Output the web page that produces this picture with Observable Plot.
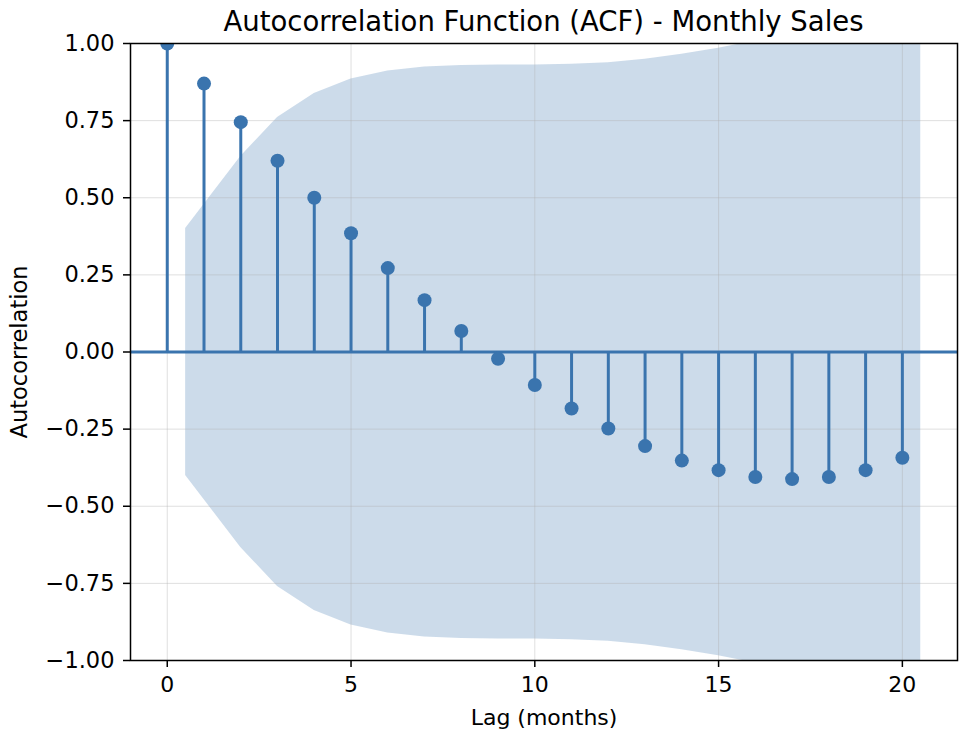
<!DOCTYPE html>
<html>
<head>
<meta charset="utf-8">
<script src="https://cdn.jsdelivr.net/npm/d3@7"></script>
<script src="https://cdn.jsdelivr.net/npm/@observablehq/plot@0.6"></script>
<style>
  body { margin: 0; background: #fff; font-family: "DejaVu Sans", sans-serif; }
  #title { height: 36px; line-height: 42px; font-size: 27.5px; text-align: center; padding-left: 130px; padding-right: 9px; color: #000; white-space: nowrap; overflow: visible; }
</style>
</head>
<body>
<div id="title">Autocorrelation Function (ACF) - Monthly Sales</div>
<div id="chart"></div>
<script>
const lags = [0,1,2,3,4,5,6,7,8,9,10,11,12,13,14,15,16,17,18,19,20];
const acf  = [1.00,0.87,0.745,0.62,0.50,0.385,0.272,0.168,0.068,-0.022,-0.107,-0.183,-0.248,-0.305,-0.352,-0.383,-0.405,-0.412,-0.405,-0.383,-0.343];
const bandLag   = [0.5,2,3,4,5,6,7,8,9,10,11,12,13,14,15,16,17,18,19,20.5];
const bandUpper = [0.40,0.634,0.76,0.838,0.885,0.911,0.924,0.929,0.930,0.930,0.933,0.938,0.949,0.965,0.985,1.008,1.033,1.06,1.085,1.10];
const bandLower = [-0.40,-0.634,-0.76,-0.838,-0.885,-0.911,-0.924,-0.929,-0.930,-0.930,-0.933,-0.938,-0.949,-0.965,-0.985,-1.008,-1.033,-1.06,-1.085,-1.10];
const xTicks = [0,5,10,15,20];
const yTicks = [-1,-0.75,-0.5,-0.25,0,0.25,0.5,0.75,1];

const acfData = lags.map((l,i) => ({lag: l, value: acf[i]}));
const bandData = bandLag.map((l,i) => ({lag: l, lo: bandLower[i], hi: bandUpper[i]}));
const C = "#3a74ae";

const chart = Plot.plot({
  width: 966,
  height: 706,
  marginTop: 7,
  marginBottom: 82,
  marginLeft: 130,
  marginRight: 9,
  style: {fontFamily: "DejaVu Sans", fontSize: "22px", color: "#000", background: "#fff", overflow: "visible"},
  x: {domain: [-1, 21.5]},
  y: {domain: [-1, 1]},
  marks: [
    Plot.areaY(bandData, {x: "lag", y1: "lo", y2: "hi", fill: C, fillOpacity: 0.26, clip: true, curve: "linear"}),
    Plot.ruleX(xTicks, {stroke: "#b0b0b0", strokeOpacity: 0.4, strokeWidth: 1}),
    Plot.ruleY(yTicks, {stroke: "#b0b0b0", strokeOpacity: 0.4, strokeWidth: 1}),
    Plot.ruleY([0], {stroke: C, strokeWidth: 3}),
    Plot.ruleX(acfData, {x: "lag", y1: 0, y2: "value", stroke: C, strokeWidth: 3, clip: true}),
    Plot.dot(acfData, {x: "lag", y: "value", r: 7, fill: C, stroke: "none", clip: true}),
    Plot.frame({stroke: "#000", strokeWidth: 1.5}),
    Plot.axisX({ticks: xTicks, tickSize: 7, tickPadding: 9, tickFormat: d3.format("d"), fontSize: 22,
      strokeWidth: 1.5, label: "Lag (months)", labelAnchor: "center", labelOffset: 64, labelArrow: "none"}),
    Plot.axisY({ticks: yTicks, tickSize: 7, tickPadding: 9, tickFormat: d3.format(".2f"), fontSize: 22.5,
      strokeWidth: 1.5, label: "Autocorrelation", labelAnchor: "center", labelOffset: 119, labelArrow: "none"})
  ]
});
document.getElementById("chart").appendChild(chart);
d3.select(chart).selectAll("text").each(function() {
  const t = this.textContent;
  if (/[→↑←↓]/.test(t)) this.textContent = t.replace(/\s*[→↑←↓]\s*/g, "");
});
</script>
</body>
</html>
